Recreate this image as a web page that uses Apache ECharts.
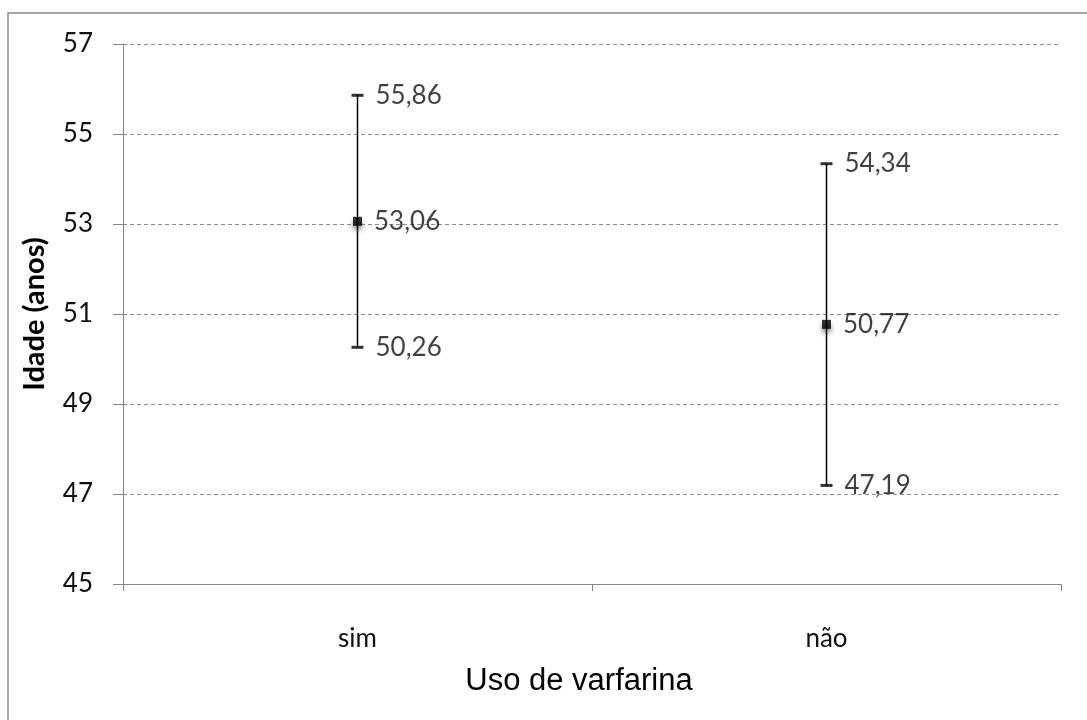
<!DOCTYPE html>
<html>
<head>
<meta charset="utf-8">
<script src="https://cdn.jsdelivr.net/npm/echarts@6/dist/echarts.min.js"></script>
<style>
  html, body { margin: 0; padding: 0; background: #fff; }
  #chart { width: 1087px; height: 720px; }
</style>
</head>
<body>
<div id="chart"></div>
<script>
// Age (years) by warfarin use: mean with lower/upper bounds
const categories = ['sim', 'não'];
const meanValues = [53.06, 50.77];
const lowerValues = [50.26, 47.19];
const upperValues = [55.86, 54.34];
const yTicks = { min: 45, max: 57, interval: 2 };

const fmt = v => v.toFixed(2).replace('.', ',');
const labelFont = { fontFamily: 'Lato', fontSize: 26, color: '#111' };

const chart = echarts.init(document.getElementById('chart'));

chart.setOption({
  animation: false,
  backgroundColor: '#fff',
  graphic: [{
    type: 'rect',
    shape: { x: 8, y: 13, width: 1200, height: 800 },
    style: { fill: 'none', stroke: '#8c8c8c', lineWidth: 1.5 },
    silent: true
  }],
  grid: { left: 123, right: 26, top: 44, bottom: 136 },
  xAxis: {
    type: 'category',
    data: categories,
    boundaryGap: true,
    name: 'Uso de varfarina',
    nameLocation: 'middle',
    nameGap: 82,
    nameTextStyle: { fontFamily: 'Liberation Sans', fontSize: 31, color: '#000', padding: [0, 26, 0, 0] },
    axisLine: { lineStyle: { color: '#868686', width: 1 } },
    axisTick: { show: true, interval: 0, length: 7, lineStyle: { color: '#868686' } },
    axisLabel: Object.assign({ margin: 42 }, labelFont),
    splitLine: { show: false }
  },
  yAxis: {
    type: 'value',
    min: yTicks.min,
    max: yTicks.max,
    interval: yTicks.interval,
    name: 'Idade (anos)',
    nameLocation: 'middle',
    nameGap: 74,
    nameRotate: 90,
    nameTextStyle: { fontFamily: 'Lato', fontWeight: 'bold', fontSize: 29, color: '#000' },
    axisLine: { show: true, lineStyle: { color: '#868686', width: 1 } },
    axisTick: { show: true, length: 10, lineStyle: { color: '#868686' } },
    axisLabel: Object.assign({ margin: 30 }, labelFont),
    splitLine: { show: true, lineStyle: { color: '#8c8c8c', type: [4, 3], width: 1 } }
  },
  series: [
    {
      // vertical range line from lower to upper bound
      type: 'custom',
      data: categories.map((c, i) => [i, lowerValues[i], upperValues[i]]),
      renderItem: function (params, api) {
        const lo = api.coord([api.value(0), api.value(1)]);
        const hi = api.coord([api.value(0), api.value(2)]);
        return {
          type: 'line',
          shape: { x1: lo[0], y1: lo[1], x2: hi[0], y2: hi[1] },
          style: { stroke: '#000', lineWidth: 1.5 }
        };
      },
      z: 2
    },
    {
      // upper caps
      type: 'scatter',
      data: categories.map((c, i) => [i, upperValues[i]]),
      symbol: 'rect',
      symbolSize: [12, 3],
      itemStyle: { color: '#000' },
      label: Object.assign({ show: true, position: 'right', distance: 12, formatter: p => fmt(p.value[1]) }, labelFont),
      z: 3
    },
    {
      // lower caps
      type: 'scatter',
      data: categories.map((c, i) => [i, lowerValues[i]]),
      symbol: 'rect',
      symbolSize: [12, 3],
      itemStyle: { color: '#000' },
      label: Object.assign({ show: true, position: 'right', distance: 12, formatter: p => fmt(p.value[1]) }, labelFont),
      z: 3
    },
    {
      // mean markers
      type: 'scatter',
      data: categories.map((c, i) => [i, meanValues[i]]),
      symbol: 'rect',
      symbolSize: 9,
      itemStyle: { color: '#000', shadowColor: 'rgba(0,0,0,0.55)', shadowBlur: 5, shadowOffsetY: 4 },
      label: Object.assign({ show: true, position: 'right', distance: 12, formatter: p => fmt(p.value[1]) }, labelFont),
      z: 4
    }
  ]
});
</script>
</body>
</html>
